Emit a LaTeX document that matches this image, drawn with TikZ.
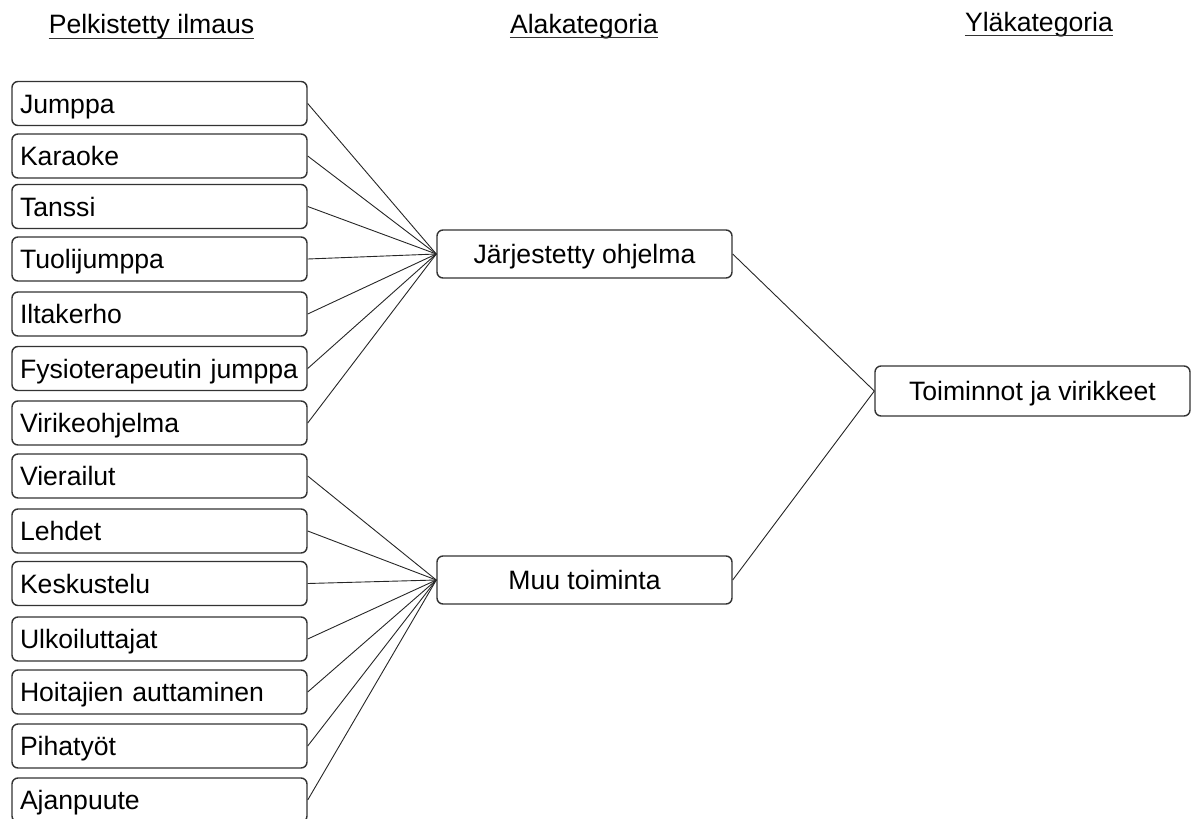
\documentclass[tikz,border=0pt]{standalone}
\usepackage{fontspec}
\setmainfont{Liberation Sans}
\begin{document}
\begin{tikzpicture}[x=1pt,y=-1pt,
  txt/.style={font=\fontsize{26.6}{30}\selectfont},
  leaf/.style={txt, draw=black!80, line width=1.4pt, rounded corners=6pt,
    minimum width=295pt, minimum height=44pt, inner xsep=8pt, inner ysep=0pt,
    text width=279pt, align=left, text height=19pt, text depth=0pt},
  cat/.style={txt, draw=black!80, line width=1.4pt, rounded corners=6pt,
    minimum width=295pt, minimum height=48pt, inner sep=0pt,
    align=center, text height=19pt, text depth=0pt},
  head/.style={txt, inner sep=0pt, anchor=base},
  uline/.style={line width=1.5pt, black!80},
  link/.style={line width=0.9pt, black!85}]
\useasboundingbox (0,0) rectangle (1197,819);
\clip (0,0) rectangle (1197,819);

% column headings
\node[head] (h1) at (151.5,34) {Pelkistetty ilmaus};
\node[head] (h2) at (584,33) {Alakategoria};
\node[head] (h3) at (1039,31) {Yläkategoria};
\foreach \h in {h1,h2,h3}
  \draw[uline] ([yshift=-4.5pt]\h.base west) -- ([yshift=-4.5pt]\h.base east);

% reduced expressions
\node[leaf] (a1)  at (159.5,103.5) {Jumppa};
\node[leaf] (a2)  at (159.5,156)   {Karaoke};
\node[leaf] (a3)  at (159.5,206.5) {Tanssi};
\node[leaf] (a4)  at (159.5,259)   {Tuolijumppa};
\node[leaf] (a5)  at (159.5,314)   {Iltakerho};
\node[leaf] (a6)  at (159.5,368.5) {Fysioterapeutin jumppa};
\node[leaf] (a7)  at (159.5,423)   {Virikeohjelma};
\node[leaf] (b1)  at (159.5,476)   {Vierailut};
\node[leaf] (b2)  at (159.5,531)   {Lehdet};
\node[leaf] (b3)  at (159.5,583.5) {Keskustelu};
\node[leaf] (b4)  at (159.5,639)   {Ulkoiluttajat};
\node[leaf] (b5)  at (159.5,692)   {Hoitajien auttaminen};
\node[leaf] (b6)  at (159.5,746)   {Pihatyöt};
\node[leaf] (b7)  at (159.5,800)   {Ajanpuute};

% subcategories
\node[cat] (s1) at (584.5,254) {Järjestetty ohjelma};
\node[cat] (s2) at (584.5,580) {Muu toiminta};

% main category
\node[cat, minimum width=315pt, minimum height=50pt] (m) at (1032.5,391) {Toiminnot ja virikkeet};

% connectors
\foreach \n in {a1,a2,a3,a4,a5,a6,a7}
  \draw[link] (\n.east) -- (s1.west);
\foreach \n in {b1,b2,b3,b4,b5,b6,b7}
  \draw[link] (\n.east) -- (s2.west);
\draw[link] (s1.east) -- (m.west);
\draw[link] (s2.east) -- (m.west);
\end{tikzpicture}
\end{document}
